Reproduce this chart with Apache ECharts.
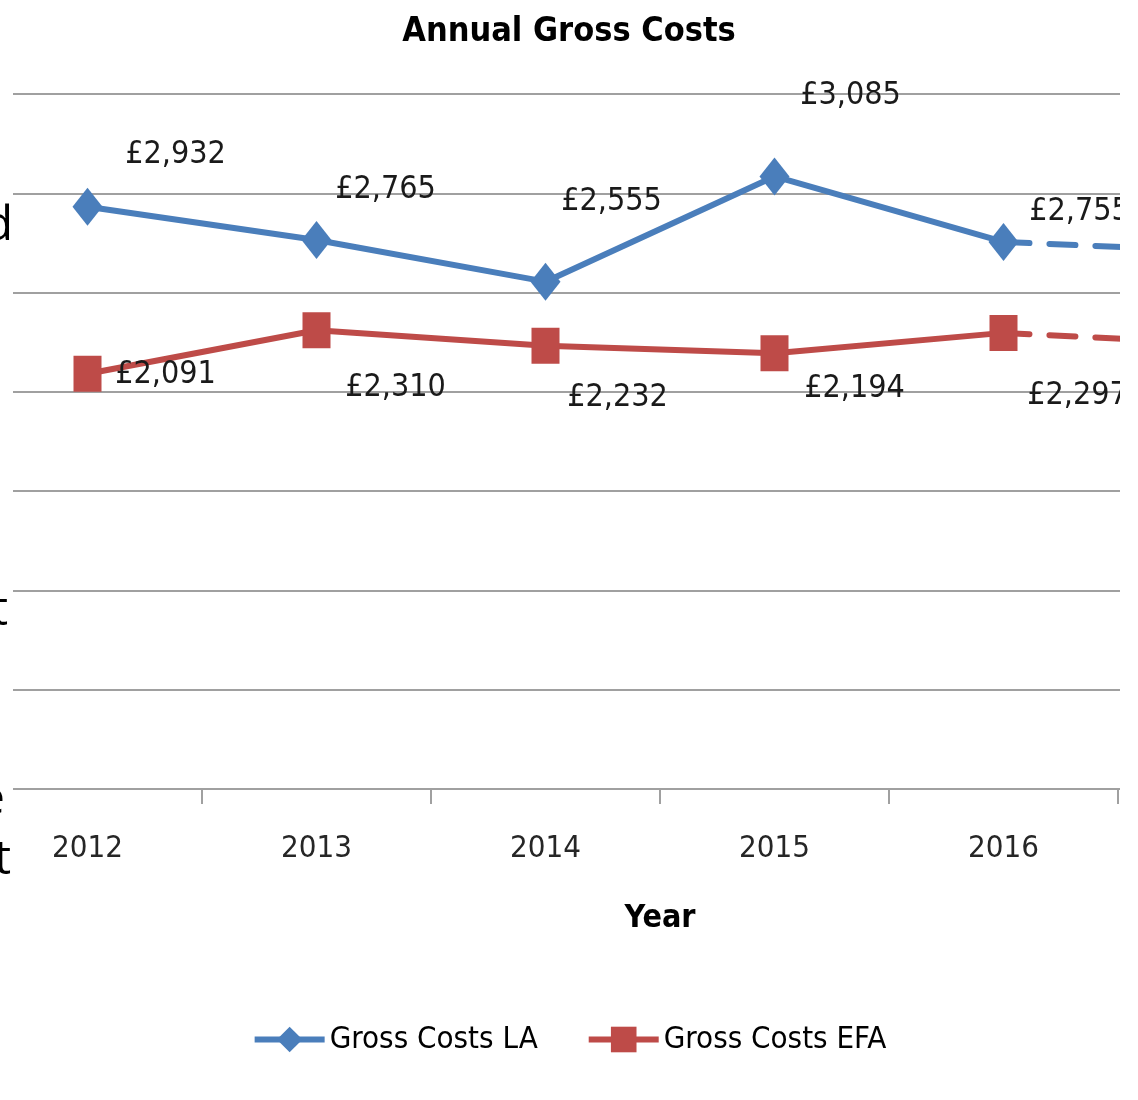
<!DOCTYPE html>
<html>
<head>
<meta charset="utf-8">
<script src="https://cdn.jsdelivr.net/npm/echarts@6/dist/echarts.min.js"></script>
<style>html,body{margin:0;padding:0;background:#fff}#chart{width:1138px;height:1100px}</style>
</head>
<body>
<div id="chart"></div>
<script>
// ---- data ----
const categories = ['2012', '2013', '2014', '2015', '2016', '2017'];
const laValues = [2932, 2765, 2555, 3085, 2755];
const efaValues = [2091, 2310, 2232, 2194, 2297];
const laProjection2017 = 2705;   // estimated from the dashed segment
const efaProjection2017 = 2240;  // estimated from the dashed segment
const yMin = 0, yMax = 3500, yInterval = 500;
const seriesNames = ['Gross Costs LA', 'Gross Costs EFA'];

// ---- styling / layout ----
const FONT = "'Liberation Sans Narrow', 'DejaVu Sans Condensed', sans-serif";
const laColor = '#4a7ebb', efaColor = '#be4b48';
const laLabelOffsets = [[88, -52], [69, -50], [66, -80], [76, -81], [76, -30]];
const efaLabelOffsets = [[78, 1], [79, 57], [72, 52], [80, 35], [74, 63]];
const fmt = v => '£' + v.toLocaleString('en-GB');

function mainData(vals, offsets) {
  const d = vals.map((v, i) => ({ value: v, label: { offset: offsets[i] } }));
  d.push('-');
  return d;
}
function projData(vals, proj) {
  const d = vals.map(() => '-');
  d[vals.length - 1] = vals[vals.length - 1];
  d.push(proj);
  return d;
}
const labelStyle = {
  show: true, position: 'inside', align: 'center', verticalAlign: 'middle',
  fontFamily: FONT, fontSize: 32, color: '#1a1a1a',
  formatter: p => fmt(p.value)
};

const chart = echarts.init(document.getElementById('chart'));
chart.setOption({
  backgroundColor: '#fff',
  animation: false,
  title: {
    text: 'Annual Gross Costs', left: 'center', top: 10,
    textStyle: { fontFamily: FONT, fontSize: 34, fontWeight: 'bold', color: '#000' }
  },
  legend: {
    data: seriesNames, left: 'center', top: 1019,
    itemWidth: 70, itemHeight: 32, itemGap: 48,
    lineStyle: { width: 6 },
    textStyle: { fontFamily: FONT, fontSize: 31, color: '#000' }
  },
  grid: { left: -27, right: -209, top: 94, bottom: 311, outerBoundsMode: 'none', containLabel: false },
  xAxis: {
    type: 'category', data: categories, boundaryGap: true,
    axisLine: { lineStyle: { color: '#a0a0a0', width: 2 } },
    axisTick: { show: true, interval: 0, length: 15, lineStyle: { color: '#a0a0a0', width: 2 } },
    axisLabel: { interval: 0, margin: 44, fontFamily: FONT, fontSize: 31, color: '#262626',
      formatter: v => (v === '2017' ? '' : v) },
    name: 'Year', nameLocation: 'middle', nameGap: 114,
    nameTextStyle: { fontFamily: FONT, fontSize: 32, fontWeight: 'bold', color: '#000' }
  },
  yAxis: {
    type: 'value', min: yMin, max: yMax, interval: yInterval,
    axisLabel: { show: false }, axisLine: { show: false }, axisTick: { show: false },
    splitLine: { lineStyle: { color: '#a0a0a0', width: 2 } }
  },
  series: [
    {
      name: 'LA projection', type: 'line', data: projData(laValues, laProjection2017),
      showSymbol: false, silent: true, z: 1,
      lineStyle: { color: laColor, width: 6, type: [26, 20], cap: 'round' }, itemStyle: { color: laColor }
    },
    {
      name: 'EFA projection', type: 'line', data: projData(efaValues, efaProjection2017),
      showSymbol: false, silent: true, z: 1,
      lineStyle: { color: efaColor, width: 6, type: [26, 20], cap: 'round' }, itemStyle: { color: efaColor }
    },
    {
      name: seriesNames[0], type: 'line', data: mainData(laValues, laLabelOffsets),
      symbol: 'diamond', symbolSize: [30, 38], z: 3,
      lineStyle: { color: laColor, width: 6 }, itemStyle: { color: laColor },
      label: labelStyle
    },
    {
      name: seriesNames[1], type: 'line', data: mainData(efaValues, efaLabelOffsets),
      symbol: 'rect', symbolSize: [28, 36], z: 3,
      lineStyle: { color: efaColor, width: 6 }, itemStyle: { color: efaColor },
      label: labelStyle
    }
  ],
  graphic: [
    { type: 'rect', z: 100, shape: { x: 0, y: 60, width: 13, height: 760 }, style: { fill: '#fff' } },
    { type: 'rect', z: 100, shape: { x: 1120, y: 0, width: 18, height: 900 }, style: { fill: '#fff' } },
    { type: 'text', z: 101, x: 13, y: 226, style: { text: 'd', fontFamily: "'Open Sans', sans-serif", fontSize: 48, fill: '#000', align: 'right', verticalAlign: 'middle' } },
    { type: 'text', z: 101, x: 8, y: 611, style: { text: 't', fontFamily: "'Open Sans', sans-serif", fontSize: 48, fill: '#000', align: 'right', verticalAlign: 'middle' } },
    { type: 'text', z: 101, x: 5, y: 800, style: { text: 'e', fontFamily: "'Open Sans', sans-serif", fontSize: 48, fill: '#000', align: 'right', verticalAlign: 'middle' } },
    { type: 'text', z: 101, x: 11, y: 860, style: { text: 't', fontFamily: "'Open Sans', sans-serif", fontSize: 48, fill: '#000', align: 'right', verticalAlign: 'middle' } }
  ]
});
</script>
</body>
</html>
